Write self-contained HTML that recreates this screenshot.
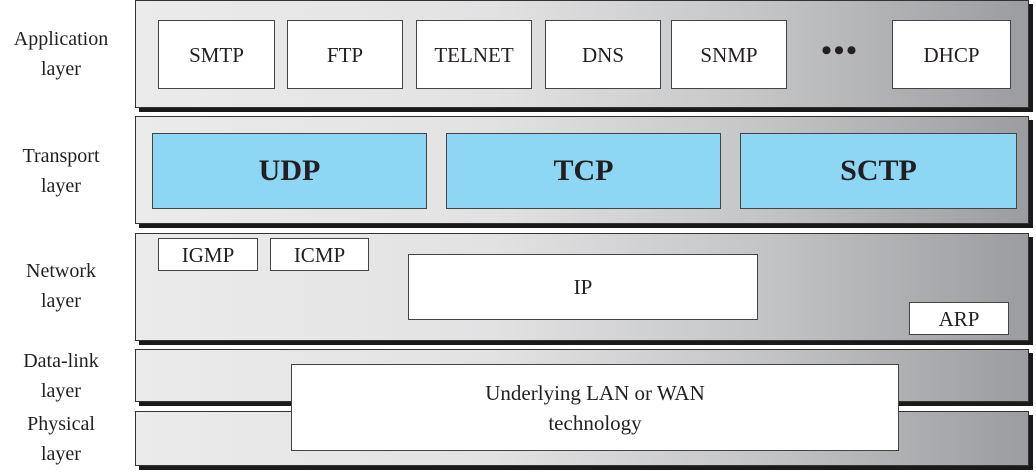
<!DOCTYPE html>
<html><head><style>
body{margin:0;width:1036px;height:473px;background:#fff;position:relative;overflow:hidden;font-family:"Liberation Serif",serif;color:#231f20}
.l{position:absolute;left:135px;width:894px;border:1.5px solid #333;box-sizing:border-box;background:linear-gradient(to right,#ebebeb 0%,#e2e2e3 40%,#c4c5c7 70%,#9b9c9f 100%);box-shadow:4px 4px 0 #1a1a1a}
.b{position:absolute;background:#fff;border:1.5px solid #444;box-sizing:border-box;display:flex;align-items:center;justify-content:center;font-size:21px;text-align:center;line-height:30px}
.t{background:#8dd7f5;font-weight:bold;font-size:30px}
.lab{position:absolute;font-size:20px;text-align:center;line-height:30px}
</style></head><body>
<div class="lab" style="left:0;top:24px;width:122px">Application<br>layer</div>
<div class="lab" style="left:0;top:141px;width:122px">Transport<br>layer</div>
<div class="lab" style="left:0;top:256px;width:122px">Network<br>layer</div>
<div class="lab" style="left:0;top:346px;width:122px">Data-link<br>layer</div>
<div class="lab" style="left:0;top:409px;width:122px">Physical<br>layer</div>

<div class="l" style="top:0;height:108px"></div>
<div class="l" style="top:116px;height:108px"></div>
<div class="l" style="top:233px;height:108px"></div>
<div class="l" style="top:349px;height:53px"></div>
<div class="l" style="top:411px;height:55px"></div>

<div class="b" style="left:158px;top:20px;width:117px;height:69px">SMTP</div>
<div class="b" style="left:287px;top:20px;width:116px;height:69px">FTP</div>
<div class="b" style="left:416px;top:20px;width:116px;height:69px">TELNET</div>
<div class="b" style="left:545px;top:20px;width:116px;height:69px">DNS</div>
<div class="b" style="left:671px;top:20px;width:116px;height:69px">SNMP</div>
<div class="lab" style="left:810px;top:36px;width:60px;font-size:30px;font-weight:bold;letter-spacing:2px">•••</div>
<div class="b" style="left:892px;top:20px;width:119px;height:69px">DHCP</div>

<div class="b t" style="left:152px;top:133px;width:275px;height:76px">UDP</div>
<div class="b t" style="left:446px;top:133px;width:275px;height:76px">TCP</div>
<div class="b t" style="left:740px;top:133px;width:277px;height:76px">SCTP</div>

<div class="b" style="left:158px;top:238px;width:100px;height:33px">IGMP</div>
<div class="b" style="left:270px;top:238px;width:99px;height:33px">ICMP</div>
<div class="b" style="left:408px;top:254px;width:350px;height:66px">IP</div>
<div class="b" style="left:909px;top:302px;width:100px;height:33px">ARP</div>

<div class="b" style="left:291px;top:364px;width:608px;height:87px">Underlying LAN or WAN<br>technology</div>
</body></html>
